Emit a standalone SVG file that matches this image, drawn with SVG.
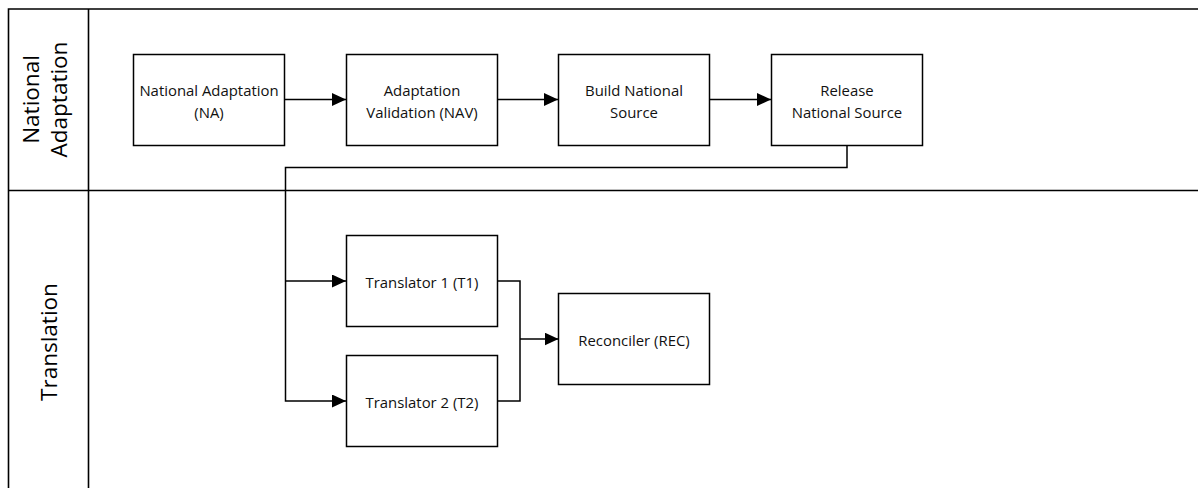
<svg xmlns="http://www.w3.org/2000/svg" width="1198" height="488" viewBox="0 0 1198 488">
  <style>
    .pool { fill: none; stroke: #000; stroke-width: 1.6; }
    .box { fill: #fff; stroke: #000; stroke-width: 1.5; }
    .lbl { font-family: "Open Sans", "Liberation Sans", sans-serif; font-size: 14.9px; fill: #111; text-anchor: middle; }
    .lane { font-family: "Open Sans", "Liberation Sans", sans-serif; font-size: 22.5px; fill: #000; text-anchor: middle; }
    .edge { fill: none; stroke: #000; stroke-width: 1.5; }
  </style>
  <defs>
    <marker id="arrow" viewBox="0 0 14 13" refX="14" refY="6.5" markerWidth="14" markerHeight="13" markerUnits="userSpaceOnUse" orient="auto">
      <path d="M0 0 L14 6.5 L0 13 Z" fill="#000"/>
    </marker>
  </defs>

  <rect width="1198" height="488" fill="#fff"/>

  <!-- Pool frame and lanes -->
  <g id="pool">
    <path class="pool" d="M1198 9 H8.5 V488 M88.5 9 V488 M8.5 190.5 H1198"/>
  </g>
  <g id="lane-national-adaptation">
    <text class="lane" transform="translate(39 99.5) rotate(-90)">National</text>
    <text class="lane" transform="translate(67 99.5) rotate(-90)">Adaptation</text>
  </g>
  <g id="lane-translation">
    <text class="lane" transform="translate(57 342) rotate(-90)">Translation</text>
  </g>

  <!-- Connectors -->
  <g id="connectors">
    <path class="edge" d="M285 99.5 H346" marker-end="url(#arrow)"/>
    <path class="edge" d="M497 99.5 H558" marker-end="url(#arrow)"/>
    <path class="edge" d="M710 99.5 H771" marker-end="url(#arrow)"/>
    <path class="edge" d="M847 145 V167.5 H285.5 V401 H346" marker-end="url(#arrow)"/>
    <path class="edge" d="M285.5 281 H346" marker-end="url(#arrow)"/>
    <path class="edge" d="M498 281 H520 V401 H498"/>
    <path class="edge" d="M520 339 H558.5" marker-end="url(#arrow)"/>
  </g>

  <!-- Nodes -->
  <g id="na">
    <rect class="box" x="133.5" y="54.5" width="151" height="91"/>
    <text class="lbl" x="209" y="95.5">National Adaptation</text>
    <text class="lbl" x="209" y="117.5">(NA)</text>
  </g>
  <g id="nav">
    <rect class="box" x="346.5" y="54.5" width="151" height="91"/>
    <text class="lbl" x="422" y="95.5">Adaptation</text>
    <text class="lbl" x="422" y="117.5">Validation (NAV)</text>
  </g>
  <g id="build">
    <rect class="box" x="558.5" y="54.5" width="151" height="91"/>
    <text class="lbl" x="634" y="95.5">Build National</text>
    <text class="lbl" x="634" y="117.5">Source</text>
  </g>
  <g id="release">
    <rect class="box" x="771.5" y="54.5" width="151" height="91"/>
    <text class="lbl" x="847" y="95.5">Release</text>
    <text class="lbl" x="847" y="117.5">National Source</text>
  </g>
  <g id="t1">
    <rect class="box" x="346.5" y="235.5" width="151" height="91"/>
    <text class="lbl" x="422" y="288">Translator 1 (T1)</text>
  </g>
  <g id="t2">
    <rect class="box" x="346.5" y="355.5" width="151" height="91"/>
    <text class="lbl" x="422" y="408">Translator 2 (T2)</text>
  </g>
  <g id="rec">
    <rect class="box" x="558.5" y="293.5" width="151" height="91"/>
    <text class="lbl" x="634" y="346">Reconciler (REC)</text>
  </g>
</svg>
